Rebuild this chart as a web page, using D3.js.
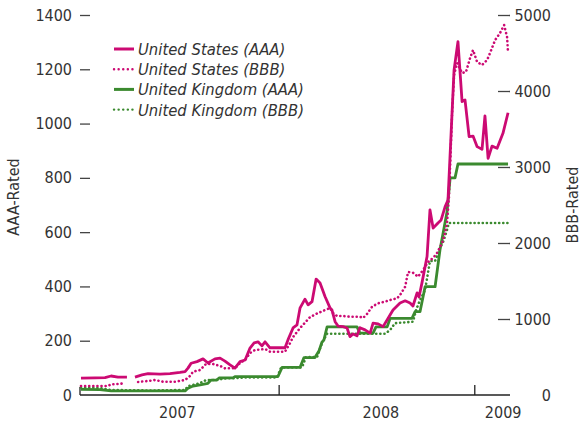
<!DOCTYPE html>
<html>
<head>
<meta charset="utf-8">
<script src="https://cdn.jsdelivr.net/npm/d3@7"></script>
<style>
  body { margin: 0; background: #fff; }
  svg text { font-family: "DejaVu Sans Condensed", "DejaVu Sans", sans-serif; font-stretch: condensed; fill: #333; }
</style>
</head>
<body>
<div id="chart"></div>
<script>
// spreads in basis points, time as decimal year
var usAAA = [[2006.987,62],[2007.059,63],[2007.110,64],[2007.141,70],[2007.176,66],[2007.222,66],[2007.240,null],
  [2007.263,66],[2007.299,74],[2007.330,79],[2007.391,77],[2007.442,79],[2007.493,83],[2007.519,86],[2007.534,99],
  [2007.550,117],[2007.580,123],[2007.611,133],[2007.636,118],[2007.672,133],[2007.698,136],[2007.723,125],[2007.749,111],
  [2007.774,99],[2007.800,123],[2007.826,129],[2007.851,173],[2007.872,192],[2007.892,196],[2007.912,181],[2007.928,196],
  [2007.953,174],[2007.989,174],[2008.030,174],[2008.045,203],[2008.071,247],[2008.091,258],[2008.107,321],[2008.132,353],
  [2008.148,332],[2008.168,344],[2008.189,427],[2008.209,413],[2008.235,362],[2008.260,321],[2008.270,313],[2008.286,270],
  [2008.301,254],[2008.327,252],[2008.347,247],[2008.362,215],[2008.378,225],[2008.398,218],[2008.413,248],[2008.439,240],
  [2008.465,228],[2008.480,265],[2008.506,262],[2008.531,252],[2008.557,283],[2008.582,313],[2008.618,339],[2008.644,347],
  [2008.669,339],[2008.684,328],[2008.705,376],[2008.715,361],[2008.730,413],[2008.756,510],[2008.771,682],[2008.787,615],
  [2008.812,634],[2008.828,645],[2008.848,693],[2008.863,718],[2008.894,1197],[2008.914,1302],[2008.935,1081],[2008.950,1087],
  [2008.971,952],[2008.991,954],[2009.012,915],[2009.037,905],[2009.052,1028],[2009.068,872],[2009.088,917],[2009.114,909],
  [2009.144,964],[2009.170,1040]];

var usBBB = [[2006.987,118],[2007.059,118],[2007.125,118],[2007.141,141],[2007.176,145],[2007.212,154],[2007.245,null],
  [2007.279,171],[2007.289,175],[2007.330,184],[2007.366,197],[2007.406,175],[2007.468,175],[2007.519,197],[2007.544,250],
  [2007.560,307],[2007.596,329],[2007.626,408],[2007.662,408],[2007.698,382],[2007.723,351],[2007.774,351],[2007.800,421],
  [2007.826,461],[2007.851,553],[2007.877,592],[2007.928,605],[2007.953,570],[2008.030,570],[2008.056,684],[2008.071,763],
  [2008.107,882],[2008.132,951],[2008.158,1026],[2008.199,1079],[2008.235,1118],[2008.260,1145],[2008.275,1079],[2008.296,1039],
  [2008.327,1039],[2008.362,1030],[2008.413,1030],[2008.429,1013],[2008.449,1066],[2008.475,1162],[2008.506,1207],[2008.541,1228],
  [2008.567,1250],[2008.603,1272],[2008.618,1316],[2008.644,1425],[2008.659,1618],[2008.684,1609],[2008.710,1557],[2008.736,1645],
  [2008.761,1750],[2008.787,1803],[2008.807,1868],[2008.833,2000],[2008.848,2132],[2008.858,2263],[2008.868,2605],[2008.884,3711],
  [2008.894,4211],[2008.909,4368],[2008.935,4237],[2008.955,4250],[2008.976,4434],[2008.991,4539],[2009.012,4382],[2009.037,4342],
  [2009.063,4408],[2009.078,4500],[2009.104,4671],[2009.129,4763],[2009.150,4868],[2009.165,4711],[2009.170,4500]];

var ukAAA = [[2006.987,21],[2007.084,20],[2007.141,15],[2007.519,15],[2007.534,25],[2007.560,33],[2007.596,37],[2007.636,43],
  [2007.652,55],[2007.682,55],[2007.693,63],[2007.764,63],[2007.774,68],[2007.994,68],[2008.015,102],[2008.107,102],
  [2008.127,138],[2008.183,138],[2008.204,163],[2008.219,195],[2008.229,203],[2008.245,251],[2008.398,251],[2008.413,228],
  [2008.480,228],[2008.495,251],[2008.552,251],[2008.567,282],[2008.679,282],[2008.695,307],[2008.720,307],[2008.746,399],
  [2008.797,399],[2008.822,534],[2008.858,674],[2008.874,800],[2008.899,800],[2008.914,851],[2009.170,851]];

var ukBBB = [[2006.987,99],[2007.084,92],[2007.141,66],[2007.340,59],[2007.519,66],[2007.534,118],[2007.560,132],[2007.596,158],
  [2007.626,197],[2007.672,197],[2007.723,217],[2007.826,230],[2007.989,230],[2008.010,362],[2008.117,362],[2008.137,500],
  [2008.194,500],[2008.219,684],[2008.245,805],[2008.541,805],[2008.567,855],[2008.592,945],[2008.684,964],[2008.700,1118],
  [2008.720,1250],[2008.746,1382],[2008.771,1763],[2008.797,1763],[2008.822,1934],[2008.838,2013],[2008.858,2171],[2008.868,2263],
  [2009.180,2263]];

var leftTicks = [0, 200, 400, 600, 800, 1000, 1200, 1400];
var rightTicks = [0, 1000, 2000, 3000, 4000, 5000];
var yearTicks = [2008, 2009];
var yearLabels = ["2007", "2008", "2009"];
var yearLabelAt = [2007.48, 2008.52, 2009.145];
var seriesNames = ["United States (AAA)", "United States (BBB)", "United Kingdom (AAA)", "United Kingdom (BBB)"];

var pink = "#cc0a73", green = "#3b8a2f";

var margin = {top: 15, right: 75, bottom: 30, left: 80},
    width = 585 - margin.left - margin.right,
    height = 425 - margin.top - margin.bottom;

var x = d3.scaleLinear().domain([2006.982, 2009.18]).range([0, width]);
var yL = d3.scaleLinear().domain([0, 1400]).range([height, 0]);
var yR = d3.scaleLinear().domain([0, 5000]).range([height, 0]);

var svg = d3.select("#chart").append("svg")
    .attr("width", 585)
    .attr("height", 425)
  .append("g")
    .attr("transform", "translate(" + margin.left + "," + margin.top + ")");

// left axis, dashes inside the plot
var gl = svg.append("g")
    .call(d3.axisLeft(yL).tickValues(leftTicks).tickFormat(d3.format("d")).tickSize(-10).tickPadding(8));
gl.select(".domain").remove();
gl.selectAll(".tick line").attr("stroke", "#444").attr("stroke-width", 1.3)
    .filter(function(d) { return d === 0; }).remove();
gl.selectAll("text").style("font-size", "16px");

// right axis
var gr = svg.append("g")
    .attr("transform", "translate(" + width + ",0)")
    .call(d3.axisRight(yR).tickValues(rightTicks).tickFormat(d3.format("d")).tickSize(-12).tickPadding(0));
gr.select(".domain").remove();
gr.selectAll(".tick line").attr("stroke", "#444").attr("stroke-width", 1.3)
    .filter(function(d) { return d === 0; }).remove();
gr.selectAll("text").style("font-size", "16px").attr("text-anchor", "end").attr("x", 41);

// x axis
svg.append("line").attr("x1", 0).attr("x2", width).attr("y1", height).attr("y2", height)
    .attr("stroke", "#222").attr("stroke-width", 1.3);
svg.append("line").attr("x1", 0).attr("x2", 0).attr("y1", height - 8).attr("y2", height)
    .attr("stroke", "#222").attr("stroke-width", 1.3);
svg.selectAll(".yeartick").data(yearTicks).enter().append("line")
    .attr("x1", function(d) { return x(d); }).attr("x2", function(d) { return x(d); })
    .attr("y1", height - 10).attr("y2", height)
    .attr("stroke", "#222").attr("stroke-width", 1.3);
svg.selectAll(".yearlabel").data(yearLabels).enter().append("text")
    .attr("x", function(d, i) { return x(yearLabelAt[i]); })
    .attr("y", height + 23)
    .attr("text-anchor", "middle")
    .style("font-size", "16px")
    .text(function(d) { return d; });

// axis titles
svg.append("text")
    .attr("transform", "translate(" + (-61) + "," + (height / 2 - 8) + ") rotate(-90)")
    .attr("text-anchor", "middle").style("font-size", "16px").text("AAA-Rated");
svg.append("text")
    .attr("transform", "translate(" + (width + 68) + "," + (height / 2) + ") rotate(-90)")
    .attr("text-anchor", "middle").style("font-size", "16px").text("BBB-Rated");

// lines
var lineL = d3.line().defined(function(d) { return d[1] !== null; })
    .x(function(d) { return x(d[0]); }).y(function(d) { return yL(d[1]); });
var lineR = d3.line().defined(function(d) { return d[1] !== null; })
    .x(function(d) { return x(d[0]); }).y(function(d) { return yR(d[1]); });

var series = [
  {data: ukBBB, line: lineR, color: green, dotted: true},
  {data: ukAAA, line: lineL, color: green, dotted: false},
  {data: usBBB, line: lineR, color: pink, dotted: true},
  {data: usAAA, line: lineL, color: pink, dotted: false}
];

series.forEach(function(s) {
  svg.append("path")
      .datum(s.data)
      .attr("fill", "none")
      .attr("stroke", s.color)
      .attr("stroke-width", s.dotted ? 2.6 : 2.8)
      .attr("stroke-linecap", s.dotted ? "round" : "butt")
      .attr("stroke-linejoin", "round")
      .attr("stroke-dasharray", s.dotted ? "0.1,4" : null)
      .attr("d", s.line);
});

// legend
var legendStyle = [[pink, false], [pink, true], [green, false], [green, true]];
var lg = svg.append("g").attr("transform", "translate(34,34)");
seriesNames.forEach(function(name, i) {
  var row = lg.append("g").attr("transform", "translate(0," + (i * 20.2) + ")");
  row.append("line").attr("x1", 0).attr("x2", 20).attr("y1", 0).attr("y2", 0)
      .attr("stroke", legendStyle[i][0])
      .attr("stroke-width", legendStyle[i][1] ? 2.4 : 3)
      .attr("stroke-linecap", legendStyle[i][1] ? "round" : "butt")
      .attr("stroke-dasharray", legendStyle[i][1] ? "0.1,4.5" : null);
  row.append("text").attr("x", 24).attr("y", 6)
      .style("font-size", "16.5px").style("font-style", "italic")
      .text(name);
});
</script>
</body>
</html>
